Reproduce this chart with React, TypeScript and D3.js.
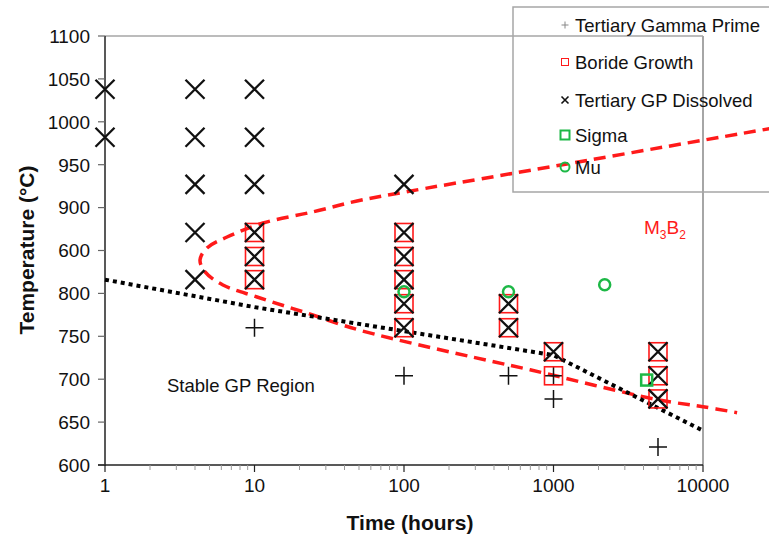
import React from "react";
import * as d3 from "d3";

const W = 769;
const H = 536;

const yTickValues = [1100, 1050, 1000, 950, 900, 850, 800, 750, 700, 650, 600];
const yTickLabels = ["1100", "1050", "1000", "950", "900", "600", "800", "750", "700", "650", "600"];
const xTickValues = [1, 10, 100, 1000, 10000];
const xTickLabels = ["1", "10", "100", "1000", "10000"];

// [time (h), temperature (°C)]
const gammaPrime: [number, number][] = [
  [10, 760], [100, 704], [500, 704], [1000, 704], [1000, 677], [5000, 621],
];
const borideGrowth: [number, number][] = [
  [10, 871], [10, 843], [10, 816],
  [100, 871], [100, 843], [100, 816], [100, 788], [100, 760],
  [500, 788], [500, 760],
  [1000, 732], [1000, 704],
  [5000, 732], [5000, 704], [5000, 677],
];
const gpDissolved: [number, number][] = [
  [1, 1038], [1, 982],
  [4, 1038], [4, 982], [4, 927], [4, 871], [4, 816],
  [10, 1038], [10, 982], [10, 927], [10, 871], [10, 843], [10, 816],
  [100, 927], [100, 871], [100, 843], [100, 816], [100, 788], [100, 760],
  [500, 788], [500, 760],
  [1000, 732],
  [5000, 732], [5000, 704], [5000, 677],
];
const sigma: [number, number][] = [[4200, 699]];
const mu: [number, number][] = [[100, 802], [500, 802], [2200, 810]];

const boundaryM3B2: [number, number][] = [
  [30000, 993], [536, 940], [100, 918], [48.5, 907.7], [24.6, 895], [11.4, 882],
  [6.55, 865.7], [4.81, 852.9], [4.32, 839], [4.67, 825], [6.15, 809.8],
  [10.4, 795.8], [22.5, 777], [50.8, 757], [359, 722], [697, 711],
  [5000, 676], [10000, 668], [16900, 661],
];
const boundaryGP: [number, number][] = [
  [1, 816], [10, 784], [100, 756], [1000, 728], [10000, 640],
];

const legendItems = ["Tertiary Gamma Prime", "Boride Growth", "Tertiary GP Dissolved", "Sigma", "Mu"];

const GREEN = "#1db846";
const RED = "#ff1a1a";

export default function App() {
  const x = d3.scaleLog().domain([1, 10000]).range([105, 703]);
  const y = d3.scaleLinear().domain([600, 1100]).range([465, 36]);
  const m3b2Path =
    d3
      .line<[number, number]>()
      .x((d) => x(d[0]))
      .y((d) => y(d[1]))
      .curve(d3.curveCatmullRom.alpha(0.5))(boundaryM3B2) || "";
  const gpPath =
    d3
      .line<[number, number]>()
      .x((d) => x(d[0]))
      .y((d) => y(d[1]))(boundaryGP) || "";

  const minorTicks: number[] = [];
  for (let dec = 1; dec < 10000; dec *= 10) {
    for (let k = 2; k <= 9; k++) minorTicks.push(dec * k);
  }

  const font = "'Liberation Sans', Arial, sans-serif";

  const xMark = (cx: number, cy: number, h: number, sw: number, color: string, key: string) => (
    <path
      key={key}
      d={`M${cx - h},${cy - h}L${cx + h},${cy + h}M${cx - h},${cy + h}L${cx + h},${cy - h}`}
      stroke={color}
      strokeWidth={sw}
      fill="none"
    />
  );
  const plusMark = (cx: number, cy: number, h: number, sw: number, color: string, key: string) => (
    <path
      key={key}
      d={`M${cx - h},${cy}L${cx + h},${cy}M${cx},${cy - h}L${cx},${cy + h}`}
      stroke={color}
      strokeWidth={sw}
      fill="none"
    />
  );

  const legendY = [25, 62, 100, 135, 167];
  const lx = 565;

  return (
    <svg
      width={W}
      height={H}
      style={{ position: "fixed", left: 0, top: 0, background: "#fff" }}
      fontFamily={font}
    >
      <rect x={0} y={0} width={W} height={H} fill="#fff" />
      {/* plot frame */}
      <line x1={105} y1={36} x2={703} y2={36} stroke="#a6a6a6" strokeWidth={1.5} />
      <line x1={703} y1={36} x2={703} y2={465} stroke="#a6a6a6" strokeWidth={2} />

      {/* y axis */}
      <line x1={105} y1={36} x2={105} y2={466} stroke="#222" strokeWidth={1.5} />
      {yTickValues.map((v, i) => (
        <g key={"yt" + i}>
          <line x1={98} x2={105} y1={y(v)} y2={y(v)} stroke="#666" strokeWidth={1.2} />
          <text x={90} y={y(v)} dy="0.36em" textAnchor="end" fontSize={19} fill="#111">
            {yTickLabels[i]}
          </text>
        </g>
      ))}

      {/* x axis */}
      <line x1={98} y1={465} x2={703} y2={465} stroke="#222" strokeWidth={1.5} />
      {minorTicks.map((v, i) => (
        <line key={"mt" + i} x1={x(v)} x2={x(v)} y1={465} y2={470} stroke="#999" strokeWidth={1} />
      ))}
      {xTickValues.map((v, i) => (
        <g key={"xt" + i}>
          <line x1={x(v)} x2={x(v)} y1={465} y2={472} stroke="#222" strokeWidth={1.2} />
          <text x={x(v)} y={492} textAnchor="middle" fontSize={19} fill="#111">
            {xTickLabels[i]}
          </text>
        </g>
      ))}

      {/* axis titles */}
      <text x={410} y={530} textAnchor="middle" fontSize={21} fontWeight="bold" fill="#111">
        Time (hours)
      </text>
      <text
        transform={`translate(34,250) rotate(-90)`}
        textAnchor="middle"
        fontSize={21}
        fontWeight="bold"
        fill="#111"
      >
        Temperature (°C)
      </text>

      {/* boundary lines */}
      <path d={m3b2Path} fill="none" stroke={RED} strokeWidth={3.5} strokeDasharray="12,7" />
      <path d={gpPath} fill="none" stroke="#000" strokeWidth={4} strokeDasharray="4,4" />

      {/* markers */}
      {gammaPrime.map((d, i) => plusMark(x(d[0]), y(d[1]), 9, 1.5, "#111", "gp" + i))}
      {borideGrowth.map((d, i) => (
        <rect
          key={"bg" + i}
          x={x(d[0]) - 9}
          y={y(d[1]) - 9}
          width={18}
          height={18}
          fill="none"
          stroke={RED}
          strokeWidth={1.6}
        />
      ))}
      {gpDissolved.map((d, i) => xMark(x(d[0]), y(d[1]), 9.5, 2.3, "#111", "gd" + i))}
      {sigma.map((d, i) => (
        <rect
          key={"sg" + i}
          x={x(d[0]) - 5.5}
          y={y(d[1]) - 5.5}
          width={11}
          height={11}
          fill="none"
          stroke={GREEN}
          strokeWidth={2.5}
        />
      ))}
      {mu.map((d, i) => (
        <circle key={"mu" + i} cx={x(d[0])} cy={y(d[1])} r={5.5} fill="none" stroke={GREEN} strokeWidth={2.5} />
      ))}

      {/* annotations */}
      <text x={167} y={392} fontSize={18.5} fill="#111">
        Stable GP Region
      </text>
      <text x={644} y={234} fontSize={19} fill={RED}>
        M<tspan fontSize={12} dy={5}>3</tspan>
        <tspan dy={-5}>B</tspan>
        <tspan fontSize={12} dy={5}>2</tspan>
      </text>

      {/* legend */}
      <g>
        <rect x={513} y={7} width={300} height={185} fill="none" stroke="#a6a6a6" strokeWidth={1.5} />
        {plusMark(lx, legendY[0], 3.5, 1, "#888", "l0")}
        <rect x={lx - 3.5} y={legendY[1] - 3.5} width={7} height={7} fill="none" stroke={RED} strokeWidth={1} />
        {xMark(lx, legendY[2], 3.5, 1.6, "#111", "l2")}
        <rect x={lx - 4.5} y={legendY[3] - 4.5} width={9} height={9} fill="none" stroke={GREEN} strokeWidth={2} />
        <circle cx={lx} cy={legendY[4]} r={4.5} fill="none" stroke={GREEN} strokeWidth={2} />
        {legendItems.map((t, i) => (
          <text key={"lt" + i} x={575} y={legendY[i]} dy="0.36em" fontSize={18.5} fill="#111">
            {t}
          </text>
        ))}
      </g>
    </svg>
  );
}
